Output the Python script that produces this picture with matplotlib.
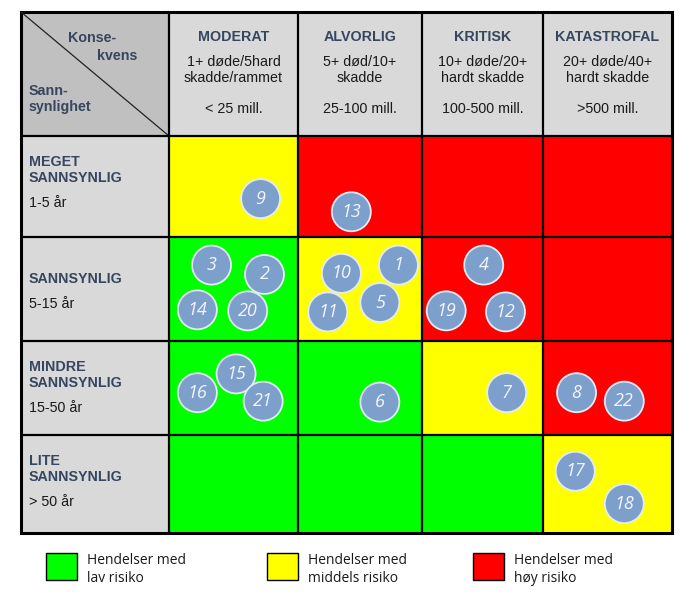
import numpy as np
import matplotlib.pyplot as plt
from matplotlib.patches import Rectangle, Circle

# kolonner (konsekvens)
konsekvens = ['MODERAT', 'ALVORLIG', 'KRITISK', 'KATASTROFAL']
konsekvens_tekst = ['1+ døde/5hard\nskadde/rammet', '5+ død/10+\nskadde',
                    '10+ døde/20+\nhardt skadde', '20+ døde/40+\nhardt skadde']
kostnad = ['< 25 mill.', '25-100 mill.', '100-500 mill.', '>500 mill.']

# rader (sannsynlighet)
sannsynlighet = ['MEGET\nSANNSYNLIG', 'SANNSYNLIG', 'MINDRE\nSANNSYNLIG', 'LITE\nSANNSYNLIG']
frekvens = ['1-5 år', '5-15 år', '15-50 år', '> 50 år']

# risiko per celle: 0 = lav, 1 = middels, 2 = høy
risiko = [[1, 2, 2, 2],
          [0, 1, 2, 2],
          [0, 0, 1, 2],
          [0, 0, 0, 1]]

# hendelser: nummer, posisjon langs konsekvens (0-4) og sannsynlighet (0-4)
hendelse_nr = [9, 13, 3, 2, 14, 20, 10, 1, 11, 5, 4, 19, 12,
               16, 15, 21, 6, 7, 8, 22, 17, 18]
hendelse_kons = [0.71, 1.43, 0.33, 0.74, 0.22, 0.61, 1.35, 1.81, 1.24, 1.66, 2.51, 2.20, 2.69,
                 0.22, 0.52, 0.73, 1.66, 2.70, 3.26, 3.63, 3.25, 3.63]
hendelse_sann = [0.62, 0.75, 1.27, 1.36, 1.70, 1.71, 1.35, 1.27, 1.72, 1.63, 1.27, 1.71, 1.72,
                 2.55, 2.35, 2.64, 2.65, 2.55, 2.55, 2.64, 3.37, 3.70]

legend_tekst = ['Hendelser med\nlav risiko', 'Hendelser med\nmiddels risiko', 'Hendelser med\nhøy risiko']

farger = ['#00ff00', '#ffff00', '#ff0000']
blaa = '#36465f'

# layout i piksler
col_edges = [21, 169, 298, 422, 543, 672]
row_edges = [12, 136, 237, 341, 435, 533]

fig = plt.figure(figsize=(6.92, 6.04), dpi=100)
ax = fig.add_axes([0, 0, 1, 1])
ax.set_xlim(0, 692)
ax.set_ylim(604, 0)
ax.axis('off')

arial = 'Liberation Sans'
calibri = ['Open Sans', 'DejaVu Sans']

# hjørnecelle
ax.add_patch(Rectangle((col_edges[0], row_edges[0]), col_edges[1] - col_edges[0],
                       row_edges[1] - row_edges[0], facecolor='#c0c0c0', edgecolor='none'))
ax.plot([col_edges[0], col_edges[1]], [row_edges[0], row_edges[1]], color='#222222', lw=0.9)
ax.text(68, 38, 'Konse-', ha='left', va='center', fontsize=10.3, fontweight='bold', color=blaa, family=arial)
ax.text(97, 56, 'kvens', ha='left', va='center', fontsize=10.3, fontweight='bold', color=blaa, family=arial)
ax.text(29, 91, 'Sann-', ha='left', va='center', fontsize=10.3, fontweight='bold', color=blaa, family=arial)
ax.text(29, 107, 'synlighet', ha='left', va='center', fontsize=10.3, fontweight='bold', color=blaa, family=arial)

# kolonneoverskrifter
for j in range(4):
    x0, x1 = col_edges[j + 1], col_edges[j + 2]
    ax.add_patch(Rectangle((x0, row_edges[0]), x1 - x0, row_edges[1] - row_edges[0],
                           facecolor='#d9d9d9', edgecolor='none'))
    xc = (x0 + x1) / 2
    ax.text(xc, 37, konsekvens[j], ha='center', va='center', fontsize=10.3,
            fontweight='bold', color=blaa, family=arial)
    for k, linje in enumerate(konsekvens_tekst[j].split('\n')):
        ax.text(xc, 62 + 16 * k, linje, ha='center', va='center', fontsize=10.3,
                color='#1a1a1a', family=arial)
    ax.text(xc, 109, kostnad[j], ha='center', va='center', fontsize=10.3,
            color='#1a1a1a', family=arial)

# radetiketter og celler
for i in range(4):
    y0, y1 = row_edges[i + 1], row_edges[i + 2]
    ax.add_patch(Rectangle((col_edges[0], y0), col_edges[1] - col_edges[0], y1 - y0,
                           facecolor='#d9d9d9', edgecolor='none'))
    linjer = sannsynlighet[i].split('\n')
    for k, linje in enumerate(linjer):
        ax.text(29, y0 + 42 - 16 * (len(linjer) - 1 - k), linje, ha='left', va='center',
                fontsize=10.3, fontweight='bold', color=blaa, family=arial)
    ax.text(29, y0 + 67, frekvens[i], ha='left', va='center', fontsize=10.3,
            color='#1a1a1a', family=arial)
    for j in range(4):
        x0, x1 = col_edges[j + 1], col_edges[j + 2]
        ax.add_patch(Rectangle((x0, y0), x1 - x0, y1 - y0,
                               facecolor=farger[risiko[i][j]], edgecolor='none'))

# rutenett
for x in col_edges[1:-1]:
    ax.plot([x, x], [row_edges[0], row_edges[-1]], color='black', lw=1.6, solid_capstyle='butt')
for y in row_edges[1:-1]:
    ax.plot([col_edges[0], col_edges[-1]], [y, y], color='black', lw=1.6, solid_capstyle='butt')
ax.add_patch(Rectangle((col_edges[0], row_edges[0]), col_edges[-1] - col_edges[0],
                       row_edges[-1] - row_edges[0], facecolor='none', edgecolor='black', lw=2.2))

# hendelser
cx = np.interp(hendelse_kons, [0, 1, 2, 3, 4], col_edges[1:])
cy = np.interp(hendelse_sann, [0, 1, 2, 3, 4], row_edges[1:])
for nr, x, y in zip(hendelse_nr, cx, cy):
    ax.add_patch(Circle((x, y), 19.5, facecolor='#7c9fcc', edgecolor='#e4ebf4', lw=1.3, zorder=5))
    ax.text(x, y, str(nr), ha='center', va='center', fontsize=13, style='italic',
            color='#f4f6fa', family=calibri, zorder=6)

# forklaring
legend_x = [46, 267, 473]
for k in range(3):
    ax.add_patch(Rectangle((legend_x[k], 553), 31, 27, facecolor=farger[k],
                           edgecolor='black', lw=1.0))
    for m, linje in enumerate(legend_tekst[k].split('\n')):
        ax.text(legend_x[k] + 41, 560 + 19 * m, linje, ha='left', va='center',
                fontsize=10, color='#1a1a1a', family=calibri)

fig.savefig('out.png', dpi=100)
